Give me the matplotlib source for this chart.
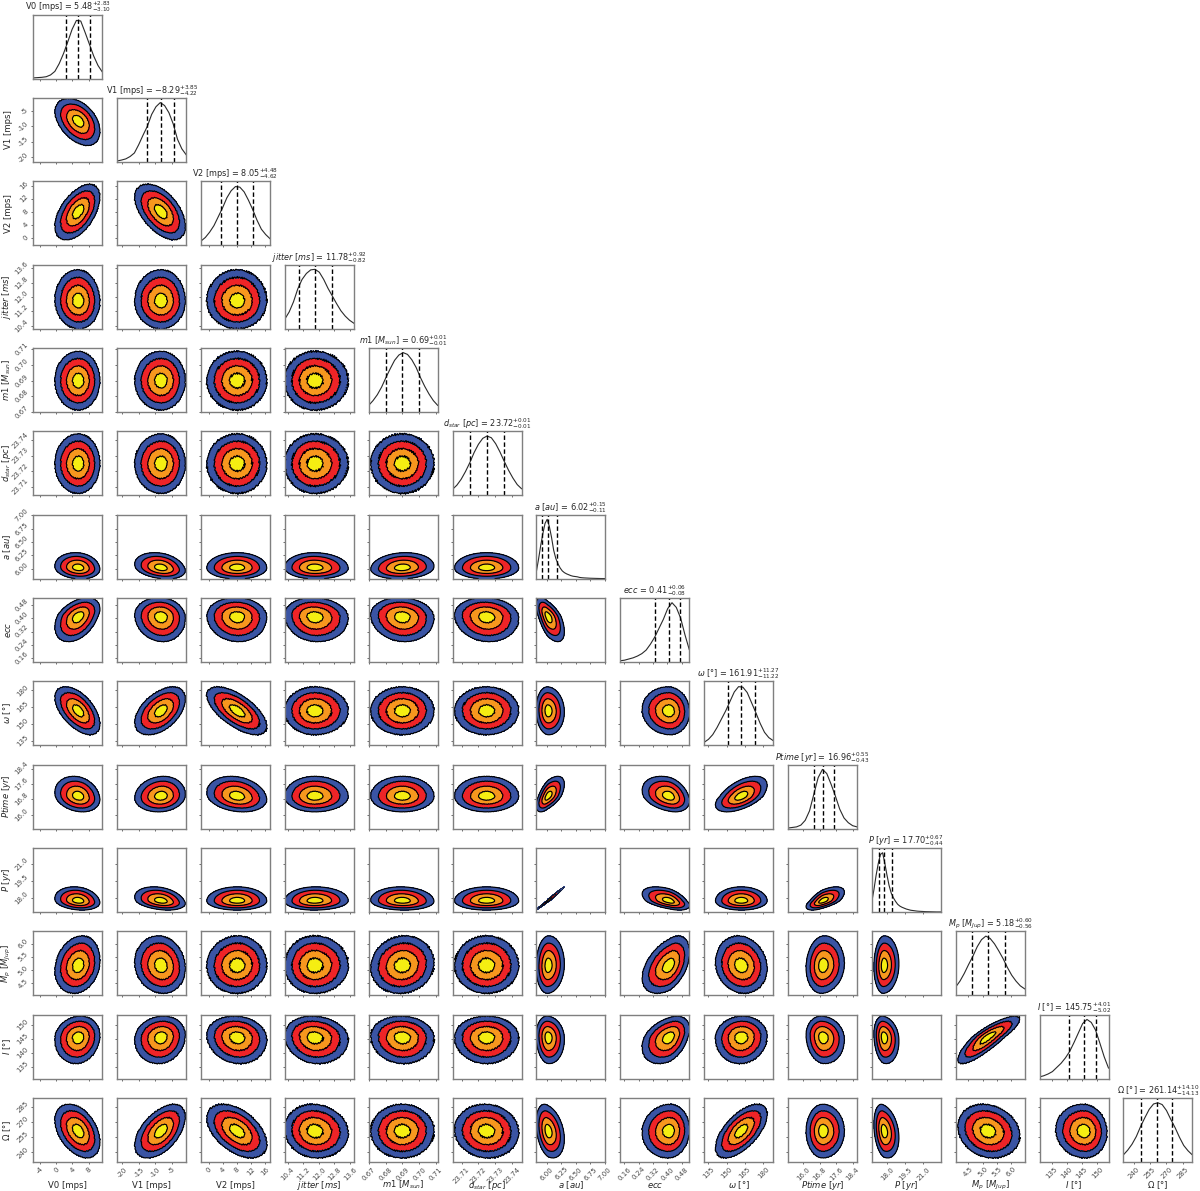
import numpy as np
import matplotlib
matplotlib.use("Agg")
import matplotlib.pyplot as plt

W, H = 1200, 1191

names = ["V0 [mps]", "V1 [mps]", "V2 [mps]", r"$jitter$ $[ms]$", r"$m1$ $[M_{sun}]$",
         r"$d_{star}$ $[pc]$", r"$a$ $[au]$", r"$ecc$", r"$\omega$ [°]", r"$Ptime$ $[yr]$",
         r"$P$ $[yr]$", r"$M_p$ $[M_{Jup}]$", r"$I$ [°]", r"$\Omega$ [°]"]
shown = ["5.48", "-8.29", "8.05", "11.78", "0.69", "23.72", "6.02", "0.41", "161.91",
         "16.96", "17.70", "5.18", "145.75", "261.14"]
shown_up = ["2.83", "3.85", "4.48", "0.92", "0.01", "0.01", "0.15", "0.06", "11.27",
            "0.55", "0.67", "0.60", "4.01", "14.10"]
shown_lo = ["3.10", "4.22", "4.62", "0.82", "0.01", "0.01", "0.11", "0.08", "11.22",
            "0.43", "0.44", "0.56", "5.02", "14.13"]
median = [5.48, -8.29, 8.05, 11.78, 0.69, 23.725, 6.02, 0.41, 161.91, 16.96, 17.70, 5.18, 145.75, 261.14]
err_up = [2.83, 3.85, 4.48, 0.92, 0.01, 0.0102, 0.15, 0.06, 11.27, 0.55, 0.67, 0.60, 4.01, 14.10]
err_lo = [3.10, 4.22, 4.62, 0.82, 0.01, 0.0102, 0.11, 0.08, 11.22, 0.43, 0.44, 0.56, 5.02, 14.13]
lim_lo = [-5.7, -21.5, -2.3, 10.25, 0.67, 23.7046, 5.82, 0.138, 131.5, 15.28, 16.7, 4.05, 130.9, 230.5]
lim_hi = [11.4, -0.8, 17.4, 13.8, 0.711, 23.7459, 7.01, 0.521, 188.0, 18.6, 22.45, 6.48, 153.8, 293.8]

ticks = [[-4, 0, 4, 8], [-20, -15, -10, -5], [0, 4, 8, 12, 16], [10.4, 11.2, 12.0, 12.8, 13.6],
         [0.67, 0.68, 0.69, 0.70, 0.71], [23.71, 23.72, 23.73, 23.74],
         [6.00, 6.25, 6.50, 6.75, 7.00], [0.16, 0.24, 0.32, 0.40, 0.48],
         [135, 150, 165, 180], [16.0, 16.8, 17.6, 18.4], [18.0, 19.5, 21.0],
         [4.5, 5.0, 5.5, 6.0], [135, 140, 145, 150], [240, 255, 270, 285]]
tick_fmt = ["%.0f", "%.0f", "%.0f", "%.1f", "%.2f", "%.2f", "%.2f", "%.2f", "%.0f", "%.1f", "%.1f", "%.1f", "%.0f", "%.0f"]

# correlation (row by row, lower triangle)
rho_rows = [
    [],
    [-0.42],
    [0.52, -0.52],
    [-0.03, 0.0, 0.0],
    [0.0, 0.0, 0.0, 0.0],
    [0.0, 0.0, 0.0, 0.0, 0.0],
    [-0.12, -0.25, 0.0, -0.03, 0.1, 0.0],
    [0.42, -0.08, -0.05, -0.08, -0.08, -0.08, -0.6],
    [-0.55, 0.48, -0.65, 0.0, 0.0, 0.0, -0.05, -0.05],
    [-0.2, 0.1, -0.2, 0.0, 0.0, 0.0, 0.6, -0.3, 0.55],
    [-0.18, -0.28, 0.0, 0.02, -0.05, 0.0, 0.99, -0.5, 0.0, 0.62],
    [0.18, -0.1, 0.02, 0.0, 0.08, 0.0, 0.05, 0.45, -0.12, 0.08, 0.05],
    [0.1, 0.1, -0.1, -0.1, -0.05, 0.0, -0.08, 0.38, 0.05, -0.1, -0.15, 0.85],
    [-0.4, 0.52, -0.48, -0.08, 0.0, -0.05, -0.3, 0.05, 0.62, 0.0, -0.25, -0.17, -0.05],
]

hist_heights = [
    [.01, .015, .02, .03, .06, .12, .25, .42, .62, .83, .98, .97, .78, .58, .38, .22, .11],
    [.015, .03, .05, .09, .15, .29, .45, .6, .8, .93, 1, .95, .83, .64, .38, .22, .12],
    [.07, .13, .22, .33, .48, .63, .8, .92, .99, .98, .9, .76, .6, .42, .27, .18, .11],
    [.16, .28, .45, .67, .83, .93, .99, 1, .95, .83, .68, .55, .42, .3, .21, .14, .09],
    [.11, .19, .29, .42, .58, .73, .87, .96, 1, .97, .88, .75, .58, .43, .3, .19, .11],
    [.1, .17, .27, .4, .55, .72, .86, .96, 1, .97, .87, .73, .57, .42, .29, .18, .11],
    [.12, .33, .56, .76, .93, 1, .88, .7, .48, .34, .25, .18, .13, .10, .08, .065, .05, .04, .035,
     .03, .02, .015, .012, .01, .008, .006, .005, .004, .003, .002, .001, .001, .001],
    [.02, .03, .05, .07, .1, .14, .2, .3, .42, .57, .72, .9, 1, .92, .74, .46, .21],
    [.05, .1, .18, .3, .44, .58, .74, .9, .99, .98, .89, .72, .55, .37, .22, .13, .08],
    [.01, .02, .03, .06, .14, .3, .58, .86, 1, .93, .75, .55, .33, .18, .1, .05, .03],
    [.17, .38, .62, .82, .97, 1, .83, .63, .45, .32, .24, .18, .13, .10, .08, .065, .05, .04, .03,
     .025, .02, .015, .012, .01, .008, .006, .005, .004, .003, .002, .001, .001, .001],
    [.14, .24, .37, .52, .66, .82, .94, 1, .96, .87, .75, .62, .47, .34, .24, .16, .11],
    [.03, .05, .08, .12, .19, .26, .35, .46, .61, .77, .93, 1, .95, .82, .6, .37, .18],
    [.12, .2, .3, .43, .6, .75, .89, .98, 1, .97, .87, .72, .58, .42, .28, .19, .12],
]

levels = [0.0, 0.47, 0.95, 1.42, 1.88]
fills = ["#f5ee12", "#f7971e", "#ee2427", "#3a54a4"]
# how rough the contour edges look for each parameter (style only)
roughness = [.6, .6, .85, .9, .9, .9, .08, .5, .7, .3, .08, .8, .7, .8]

X0, DX, PW = 33.3, 83.85, 69.0
Y0, DY, PH = 14.5, 83.35, 64.0
TXT = "#262626"
EDGE = "#7f7f7f"
TICK = "#4a4a4a"
FS_TITLE, FS_LABEL, FS_TICK = 5.9, 6.1, 5.0

plt.rcParams["font.family"] = "DejaVu Sans"
plt.rcParams["axes.unicode_minus"] = True

fig = plt.figure(figsize=(W / 100, H / 100), dpi=100, facecolor="white")
n = len(names)


def scaled(v, i):
    return np.where(v >= median[i], (v - median[i]) / err_up[i], (v - median[i]) / err_lo[i])


def style(ax, row, col, diag):
    ax.set_xlim(lim_lo[col], lim_hi[col])
    ax.set_xticks(ticks[col])
    if row == n - 1:
        ax.set_xticklabels([tick_fmt[col] % t for t in ticks[col]], rotation=45, fontsize=FS_TICK,
                           color=TICK)
        ax.set_xlabel(names[col], fontsize=FS_LABEL, color=TXT)
        ax.xaxis.set_label_coords(0.5, -0.36)
        ax.xaxis.label.set_va("center")
    else:
        ax.set_xticklabels([])
    if diag:
        ax.set_yticks([])
    else:
        ax.set_ylim(lim_lo[row], lim_hi[row])
        ax.set_yticks(ticks[row])
        if col == 0:
            ax.set_yticklabels([tick_fmt[row] % t for t in ticks[row]], rotation=45, fontsize=FS_TICK,
                               color=TICK, va="center")
            ax.set_ylabel(names[row], fontsize=FS_LABEL, color=TXT)
            ax.yaxis.set_label_coords(-0.30, 0.5)
        else:
            ax.set_yticklabels([])
    ax.tick_params(length=1.6, width=0.6, color="#555555", pad=1.2)
    for s in ax.spines.values():
        s.set_color(EDGE)
        s.set_linewidth(1.0)


for row in range(n):
    for col in range(row + 1):
        ax = fig.add_axes([(X0 + col * DX) / W, 1 - (Y0 + row * DY + PH) / H, PW / W, PH / H])
        if row == col:
            h = hist_heights[row]
            xs = np.linspace(lim_lo[col], lim_hi[col], len(h))
            ax.plot(xs, h, color="#2a2a2a", lw=0.8)
            for v in (median[col] - err_lo[col], median[col], median[col] + err_up[col]):
                ax.axvline(v, color="black", lw=1.0, ls=(0, (3.2, 1.8)))
            ax.set_ylim(0, 1.08)
            ax.set_title(names[col] + " = $" + shown[col] + "^{+" + shown_up[col] + "}_{-" + shown_lo[col] + "}$",
                         fontsize=FS_TITLE, color=TXT, pad=2.2)
            style(ax, row, col, True)
        else:
            gx = np.linspace(lim_lo[col], lim_hi[col], 345)
            gy = np.linspace(lim_lo[row], lim_hi[row], 320)
            XX, YY = np.meshgrid(gx, gy)
            u, v = scaled(XX, col), scaled(YY, row)
            r = rho_rows[row][col]
            zz = np.sqrt((u * u - 2 * r * u * v + v * v) / (1 - r * r))
            # edge texture in panel pixels, so the outlines look rough like the sampled contours
            px, py = np.meshgrid(np.linspace(0, PW, 345), np.linspace(0, PH, 320))
            amp = 0.045 * roughness[row] * roughness[col]
            zz = zz + amp * (np.sin(1.9 * px + 0.7 * py) * np.sin(1.3 * py - 0.6 * px)
                             + 0.7 * np.sin(2.7 * px - 1.1 * py + 1.0))
            ax.contourf(XX, YY, zz, levels=levels, colors=fills)
            ax.contour(XX, YY, zz, levels=levels[1:], colors="black",
                       linewidths=0.35 if abs(r) > 0.95 else 0.85)
            style(ax, row, col, False)

fig.savefig("out.png", dpi=100)
